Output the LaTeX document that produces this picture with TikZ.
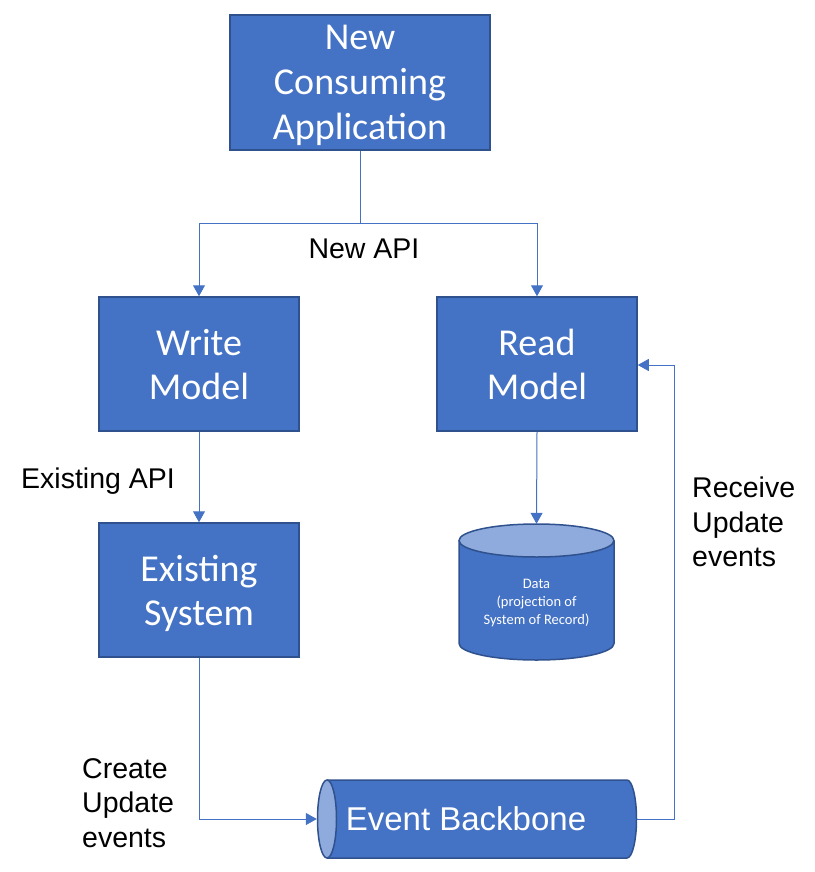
\documentclass[tikz,border=0pt]{standalone}
\usepackage{fontspec}
\setmainfont{Carlito}
\newfontfamily\arialf{Liberation Sans}
\usetikzlibrary{arrows.meta}
\definecolor{boxfill}{HTML}{4472C4}
\definecolor{boxborder}{HTML}{2F528F}
\definecolor{topfill}{HTML}{8FAADC}
\definecolor{linecol}{HTML}{4472C4}
\begin{document}
\begin{tikzpicture}[x=1pt,y=1pt,
  box/.style={draw=boxborder, line width=1.5pt, fill=boxfill, text=white, inner sep=0pt,
    minimum width=200pt, minimum height=134pt, align=center, text depth=0pt,
    font=\fontsize{38pt}{44pt}\selectfont},
  lbl/.style={inner sep=0pt, text=black, align=left, font=\arialf\fontsize{28.5pt}{34.5pt}\selectfont},
  conn/.style={draw=linecol, line width=1pt, -{Triangle[length=11pt,width=12pt]}},
  plain/.style={draw=linecol, line width=1pt},
  cyl/.style={draw=boxborder, line width=1.5pt}
]
\useasboundingbox (0,0) rectangle (814,-872);

% boxes
\node[box, minimum width=260pt, minimum height=135pt, font=\fontsize{38pt}{45pt}\selectfont] (nca) at (360,-82.5) {New\\Consuming\\Application};
\node[box] (writem) at (199,-364) {Write\\Model};
\node[box] (readm) at (537,-364) {Read\\Model};
\node[box] (exist) at (199,-590) {Existing\\System};

% data cylinder
\fill[boxfill] (459,-540.5) -- (459,-643.5) arc[start angle=180, end angle=360, x radius=77.5pt, y radius=16.5pt] -- (614,-540.5) -- cycle;
\draw[cyl] (459,-540.5) -- (459,-643.5) arc[start angle=180, end angle=360, x radius=77.5pt, y radius=16.5pt] -- (614,-540.5);
\filldraw[cyl, fill=topfill] (536.5,-540.5) ellipse[x radius=77.5pt, y radius=16.5pt];
\node[inner sep=0pt, minimum width=155pt, minimum height=136pt] (data) at (536.5,-592) {};
\node[inner sep=0pt, text=white, align=center, font=\fontsize{14.5pt}{18pt}\selectfont] (datatext) at (536.5,-603) {Data\\(projection of\\System of Record)};

% event backbone cylinder
\fill[boxfill] (327,-780) -- (627,-780) arc[start angle=90, end angle=-90, x radius=9.5pt, y radius=39pt] -- (327,-858) -- cycle;
\draw[cyl] (327,-780) -- (627,-780) arc[start angle=90, end angle=-90, x radius=9.5pt, y radius=39pt] -- (327,-858);
\filldraw[cyl, fill=topfill] (327,-819) ellipse[x radius=9.5pt, y radius=39pt];
\node[inner sep=0pt, minimum width=320pt, minimum height=78pt] (eb) at (477,-819) {};
\node[inner sep=0pt, text=white, font=\arialf\fontsize{33pt}{40pt}\selectfont] (ebtext) at (466,-819) {Event Backbone};

% connectors
\coordinate (split) at (360,-223);
\draw[plain] (nca.south) -- (split);
\draw[conn] (split) -| (writem.north);
\draw[conn] (split) -| (readm.north);
\draw[conn] (writem.south) -- (exist.north);
\draw[conn] (readm.south) -- (data.north);
\draw[conn] (exist.south) |- (eb.west);
\coordinate (rbend) at (674,-365);
\draw[conn] (eb.east) -| (rbend) -- (readm.east |- rbend);

% labels
\node[lbl, anchor=base] (lnewapi) at (364,-258) {New API};
\node[lbl, anchor=base] (lexapi) at (98,-488) {Existing API};
\node[lbl, anchor=west] (lcreate) at (82,-803) {Create\\Update\\events};
\node[lbl, anchor=west] (lreceive) at (692,-522) {Receive\\Update\\events};
\end{tikzpicture}
\end{document}
